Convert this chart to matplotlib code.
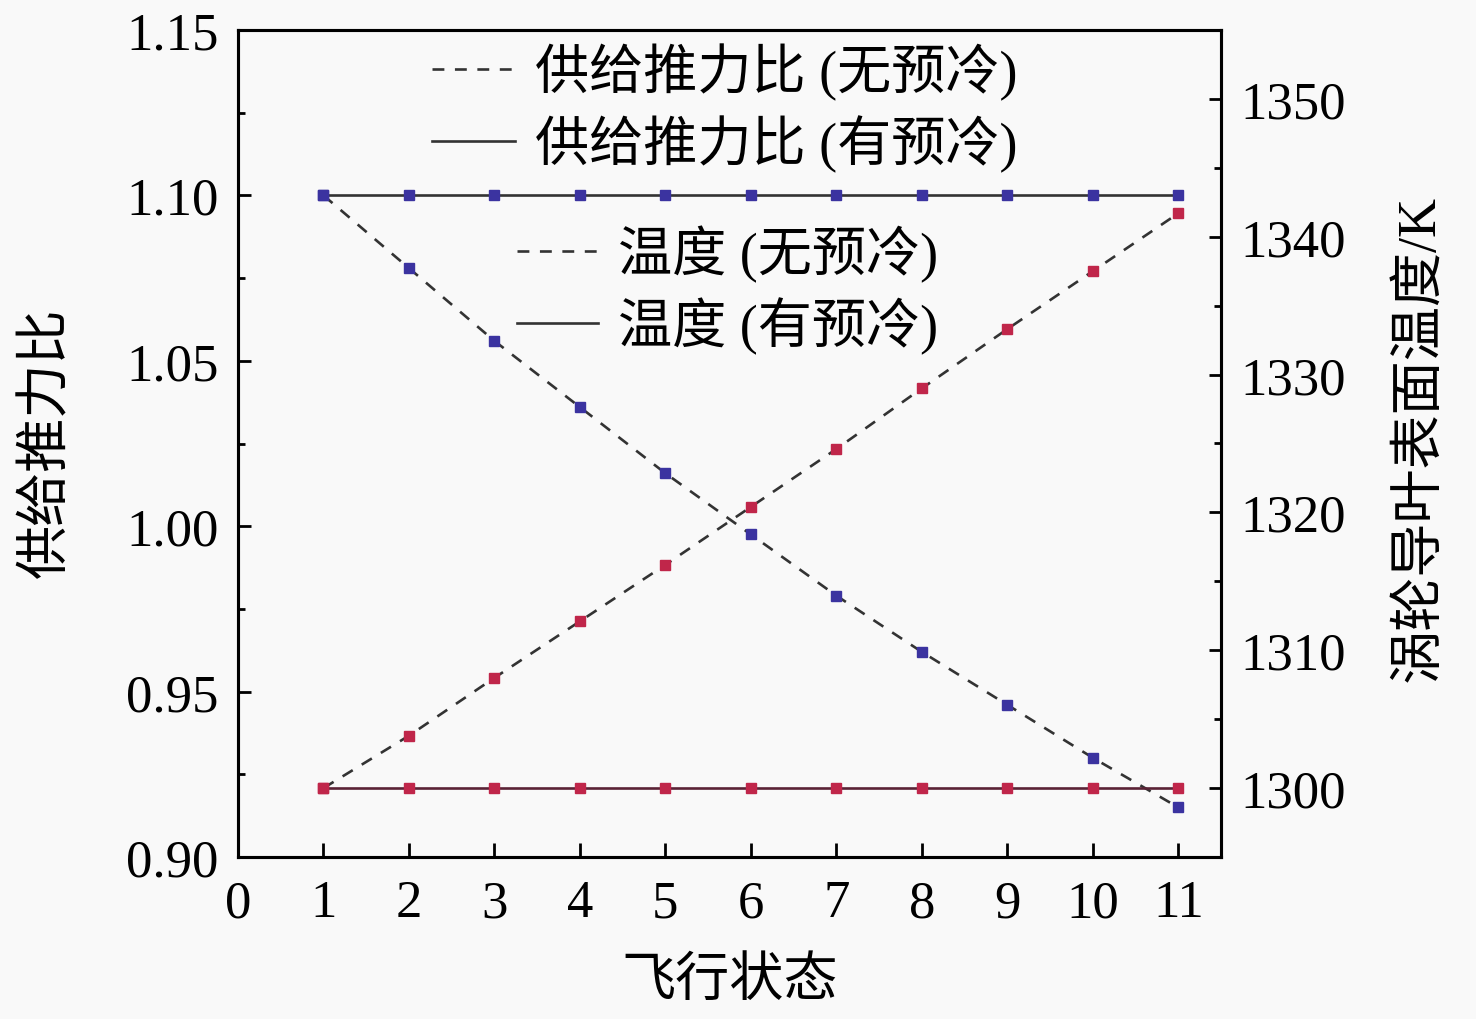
import matplotlib
matplotlib.use("Agg")
import matplotlib.pyplot as plt
from matplotlib.lines import Line2D
from matplotlib.ticker import MultipleLocator

plt.rcParams['font.family'] = ['Liberation Serif', 'Noto Sans CJK SC']
plt.rcParams['axes.unicode_minus'] = False

# ---- data ----
states = [1, 2, 3, 4, 5, 6, 7, 8, 9, 10, 11]
thrust_no_precool = [1.100, 1.078, 1.056, 1.036, 1.016, 0.9975, 0.979, 0.962, 0.946, 0.930, 0.915]
thrust_precool = [1.10] * 11
temp_no_precool = [1300.0, 1303.8, 1308.0, 1312.1, 1316.2, 1320.4, 1324.6, 1329.0, 1333.3, 1337.5, 1341.7]
temp_precool = [1300.0] * 11

x_ticks = list(range(0, 12))
left_ticks = [0.90, 0.95, 1.00, 1.05, 1.10, 1.15]
right_ticks = [1300, 1310, 1320, 1330, 1340, 1350]

labels = ['供给推力比 (无预冷)', '供给推力比 (有预冷)', '温度 (无预冷)', '温度 (有预冷)']
xlabel = '飞行状态'
ylabel_left = '供给推力比'
ylabel_right = '涡轮导叶表面温度/K'

# ---- style ----
W, H = 1476, 1020
BG = '#f9f9f9'
LINE = '#333333'
BLUE = '#3b33a0'
RED = '#c0264a'

fig = plt.figure(figsize=(W / 100, H / 100), dpi=100, facecolor=BG)
ax = fig.add_axes([238 / W, 1 - 858 / H, (1221 - 238) / W, (858 - 31) / H])
ax.set_facecolor(BG)
ax2 = ax.twinx()

dash = (0, (4.5, 4.0))
lw = 1.9
ms = 7.5

ax.plot(states, thrust_precool, color=LINE, lw=lw, ls='-', zorder=2)
ax.plot(states, thrust_no_precool, color=LINE, lw=lw, ls=dash, zorder=2)
ax.plot(states, thrust_precool, ls='none', marker='s', ms=ms, color=BLUE, zorder=3)
ax.plot(states, thrust_no_precool, ls='none', marker='s', ms=ms, color=BLUE, zorder=3)

ax2.plot(states, temp_precool, color='#5a2235', lw=lw, ls='-', zorder=2)
ax2.plot(states, temp_no_precool, color=LINE, lw=lw, ls=dash, zorder=2)
ax2.plot(states, temp_precool, ls='none', marker='s', ms=ms, color=RED, zorder=3)
ax2.plot(states, temp_no_precool, ls='none', marker='s', ms=ms, color=RED, zorder=3)

ax.set_xlim(0, 11.5)
ax.set_ylim(0.90, 1.15)
ax2.set_ylim(1295, 1355)

ax.set_xticks(x_ticks)
ax.set_xticklabels([str(v) for v in x_ticks])
ax.set_yticks(left_ticks)
ax.set_yticklabels(['%.2f' % v for v in left_ticks])
ax.yaxis.set_minor_locator(MultipleLocator(0.025))
ax2.set_yticks(right_ticks)
ax2.set_yticklabels([str(v) for v in right_ticks])
ax2.yaxis.set_minor_locator(MultipleLocator(5))

tick_fs = 38
for a in (ax, ax2):
    for s in a.spines.values():
        s.set_linewidth(2.2)
ax.tick_params(axis='y', which='major', direction='in', length=9, width=2, labelsize=tick_fs, pad=14)
ax.tick_params(axis='x', which='major', direction='in', length=10, width=2, labelsize=tick_fs, pad=16)
ax.tick_params(axis='y', which='minor', direction='in', length=5, width=2)
ax.tick_params(axis='x', top=False)
ax2.tick_params(axis='y', which='major', direction='in', length=9, width=2, labelsize=tick_fs, pad=14)
ax2.tick_params(axis='y', which='minor', direction='in', length=5, width=2)

lab_fs = 39
fig.text(48 / W, 1 - 443 / H, ylabel_left, rotation=90, ha='center', va='center', fontsize=lab_fs)
fig.text(1420 / W, 1 - 438 / H, ylabel_right, rotation=90, ha='center', va='center', fontsize=lab_fs)
fig.text(730 / W, 1 - 983 / H, xlabel, ha='center', va='center', fontsize=lab_fs)

leg_fs = 39
h1 = [Line2D([], [], color=LINE, lw=lw, ls=dash), Line2D([], [], color=LINE, lw=lw, ls='-')]
h2 = [Line2D([], [], color=LINE, lw=lw, ls=dash), Line2D([], [], color=LINE, lw=lw, ls='-')]
leg1 = ax2.legend(h1, labels[:2], loc='upper left', bbox_to_anchor=(432 / W, 1 - 44 / H),
                  bbox_transform=fig.transFigure, frameon=False, fontsize=leg_fs,
                  handlelength=1.54, handletextpad=0.37, labelspacing=0.26, borderpad=0, borderaxespad=0)
ax2.add_artist(leg1)
leg2 = ax2.legend(h2, labels[2:], loc='upper left', bbox_to_anchor=(517 / W, 1 - 226 / H),
                  bbox_transform=fig.transFigure, frameon=False, fontsize=leg_fs,
                  handlelength=1.5, handletextpad=0.37, labelspacing=0.26, borderpad=0, borderaxespad=0)

fig.savefig('out.png', dpi=100, facecolor=BG)
